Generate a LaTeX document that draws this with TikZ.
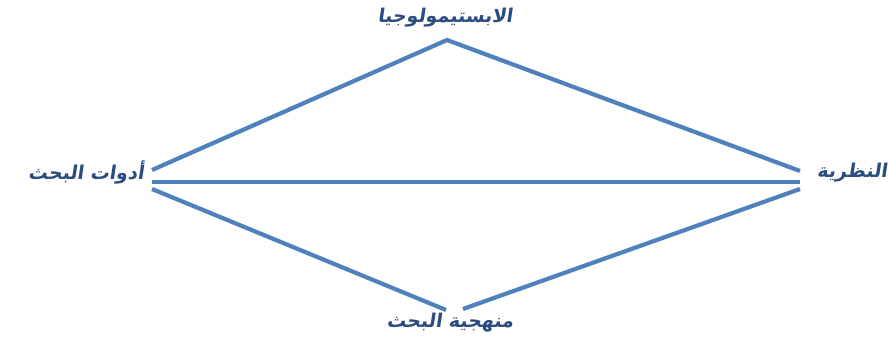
\documentclass[tikz,border=0pt]{standalone}
\usepackage{fontspec}
\newfontfamily\arabicfont[Script=Arabic,FakeSlant=0.15]{DejaVu Sans}
\TeXXeTstate=1
\usepackage{tikz}
\usetikzlibrary{arrows}
\usepackage{xcolor}
\definecolor{linkblue}{HTML}{4F81BD}
\definecolor{labelblue}{HTML}{2B4C7E}
\tikzset{>=latex}

\begin{document}
\begin{tikzpicture}[x=1pt, y=-1pt]
        % E = epistemology, T = theory, M = method, A = tools (labels)
        \tikzstyle{every node}=[text=labelblue, inner sep=0pt,
                font=\arabicfont\bfseries\fontsize{19}{22}\selectfont]
        \tikzstyle{link}=[linkblue, line width=4.2pt]
        \useasboundingbox (0,0) rectangle (888,342);

        \node (E) at (445,18) {\beginR الابستيمولوجيا\endR};
        \node (A) at (86,172) {\beginR أدوات البحث\endR};
        \node (T) at (852,173) {\beginR النظرية\endR};
        \node (M) at (450,323) {\beginR منهجية البحث\endR};

        % end points of the links
        \coordinate (Etip) at (447,40);
        \coordinate (Aup) at (152,170);
        \coordinate (Amid) at (152,182);
        \coordinate (Alow) at (152,189);
        \coordinate (Tup) at (800,171);
        \coordinate (Tmid) at (800,182);
        \coordinate (Tlow) at (800,189);
        \coordinate (Mleft) at (446,310);
        \coordinate (Mright) at (463,309);

        \draw[link] (Aup) -- (Etip) -- (Tup);
        \draw[link] (Amid) -- (Tmid);
        \draw[link] (Alow) -- (Mleft);
        \draw[link] (Mright) -- (Tlow);

        %\draw[link] (Mleft) -- (Mright);
\end{tikzpicture}
\end{document}
